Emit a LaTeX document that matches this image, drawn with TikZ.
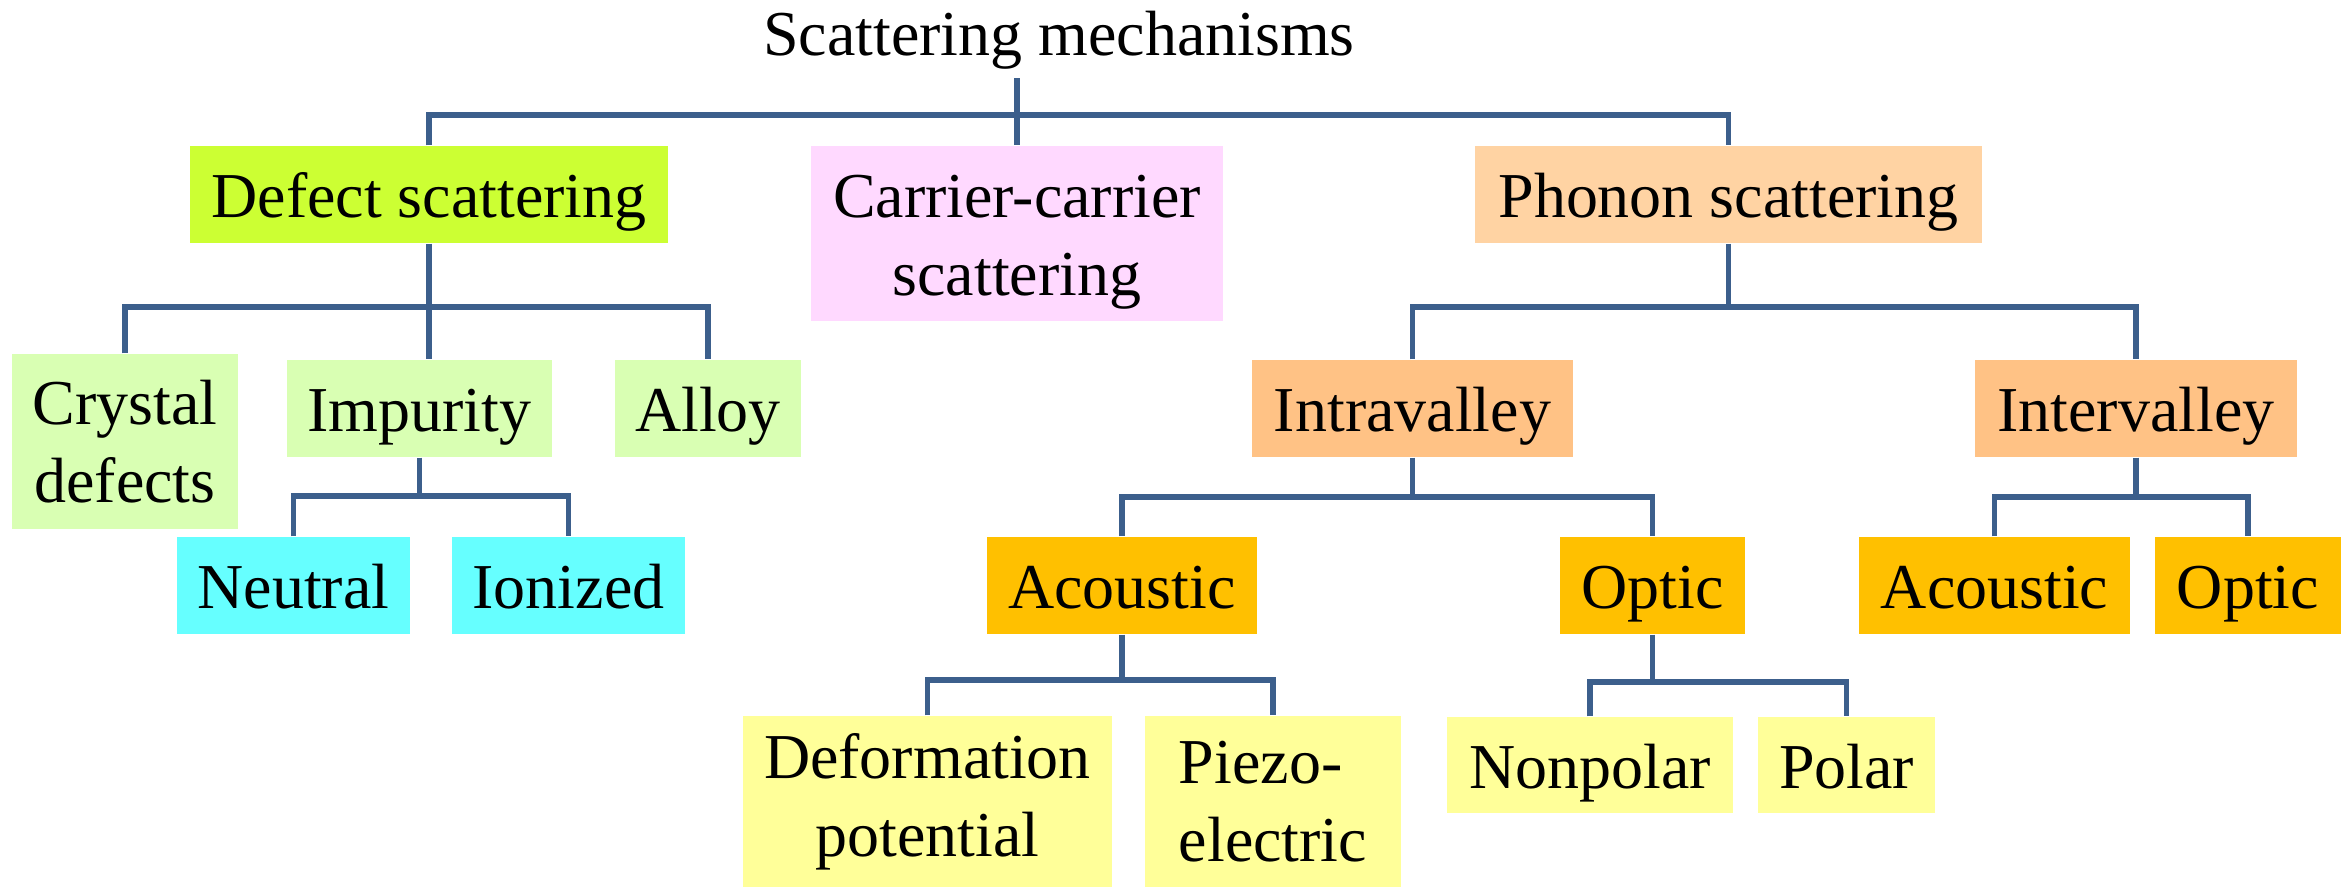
\documentclass[tikz,border=0pt]{standalone}
\usepackage{fontspec}
\setmainfont{Liberation Serif}
\definecolor{linkblue}{RGB}{60,95,140}
\definecolor{limefill}{RGB}{204,255,51}
\definecolor{pinkfill}{RGB}{255,217,255}
\definecolor{peachfill}{RGB}{255,211,163}
\definecolor{tanfill}{RGB}{255,194,133}
\definecolor{amberfill}{RGB}{255,192,0}
\definecolor{mintfill}{RGB}{217,255,179}
\definecolor{cyanfill}{RGB}{102,255,255}
\definecolor{creamfill}{RGB}{255,255,153}
\begin{document}
\begin{tikzpicture}[
    box/.style={inner sep=0pt, align=center, font=\fontsize{18.2pt}{22.2pt}\selectfont},
    one/.style={box, text height=0.47cm, text depth=0pt},
    wh/.style 2 args={minimum width=#1cm, minimum height=#2cm},
    link/.style={draw=linkblue, line width=1.5pt}
  ]
  \useasboundingbox (0,0) rectangle (23.41,-8.87);

  \node[one] (top) at (10.59,-0.32) {Scattering mechanisms};

  \node[one, fill=limefill, wh={4.78}{0.97}] (defect) at (4.29,-1.945) {Defect scattering};
  \node[box, fill=pinkfill, wh={4.12}{1.75}] (carrier) at (10.17,-2.335) {\rule{0pt}{0.6cm}Carrier-carrier\\scattering};
  \node[one, fill=peachfill, wh={5.07}{0.97}] (phonon) at (17.285,-1.945) {Phonon scattering};

  \node[box, fill=mintfill, wh={2.26}{1.75}] (crystal) at (1.25,-4.415) {Crystal\\defects};
  \node[one, fill=mintfill, wh={2.65}{0.97}] (impurity) at (4.195,-4.085) {Impurity};
  \node[one, fill=mintfill, wh={1.86}{0.97}] (alloy) at (7.08,-4.085) {Alloy};
  \node[one, fill=cyanfill, wh={2.33}{0.97}] (neutral) at (2.935,-5.855) {Neutral};
  \node[one, fill=cyanfill, wh={2.33}{0.97}] (ionized) at (5.685,-5.855) {Ionized};

  \node[one, fill=tanfill, wh={3.21}{0.97}] (intra) at (14.125,-4.085) {Intravalley};
  \node[one, fill=tanfill, wh={3.22}{0.97}] (inter) at (21.36,-4.085) {Intervalley};
  \node[one, fill=amberfill, wh={2.70}{0.97}] (acous1) at (11.22,-5.855) {Acoustic};
  \node[one, fill=amberfill, wh={1.85}{0.97}] (optic1) at (16.525,-5.855) {Optic};
  \node[one, fill=amberfill, wh={2.71}{0.97}] (acous2) at (19.945,-5.855) {Acoustic};
  \node[one, fill=amberfill, wh={1.86}{0.97}] (optic2) at (22.48,-5.855) {Optic};

  \node[box, fill=creamfill, wh={3.69}{1.71}] (deform) at (9.275,-8.015) {Deformation\\potential};
  \node[box, fill=creamfill, wh={2.56}{1.71}, align=left] (piezo) at (12.73,-8.015) {Piezo-\\electric};
  \node[one, fill=creamfill, wh={2.86}{0.96}] (nonpolar) at (15.90,-7.65) {Nonpolar};
  \node[one, fill=creamfill, wh={1.77}{0.96}] (polar) at (18.465,-7.65) {Polar};

  \coordinate (topbar) at (carrier.north |- 0,-1.15);
  \draw[link] ([yshift=-0.22cm]top.south -| carrier.north) -- (carrier.north);
  \draw[link] (defect.north) |- (topbar) -| (phonon.north);

  \draw[link] (defect.south) -- (defect.south |- 0,-3.07) coordinate (dbar);
  \draw[link] (crystal.north) |- (dbar) -| (alloy.north);
  \draw[link] (dbar) -- (dbar |- impurity.north);

  \draw[link] (impurity.south) -- (impurity.south |- 0,-4.96) coordinate (ibar);
  \draw[link] (neutral.north) |- (ibar) -| (ionized.north);

  \draw[link] (phonon.south) -- (phonon.south |- 0,-3.07) coordinate (pbar);
  \draw[link] (intra.north) |- (pbar) -| (inter.north);

  \draw[link] (intra.south) -- (intra.south |- 0,-4.97) coordinate (rbar);
  \draw[link] (acous1.north) |- (rbar) -| (optic1.north);

  \draw[link] (inter.south) -- (inter.south |- 0,-4.97) coordinate (ebar);
  \draw[link] (acous2.north) |- (ebar) -| (optic2.north);

  \draw[link] (acous1.south) -- (acous1.south |- 0,-6.80) coordinate (abar);
  \draw[link] (deform.north) |- (abar) -| (piezo.north);

  \draw[link] (optic1.south) -- (optic1.south |- 0,-6.82) coordinate (obar);
  \draw[link] (nonpolar.north) |- (obar) -| (polar.north);
\end{tikzpicture}
\end{document}
